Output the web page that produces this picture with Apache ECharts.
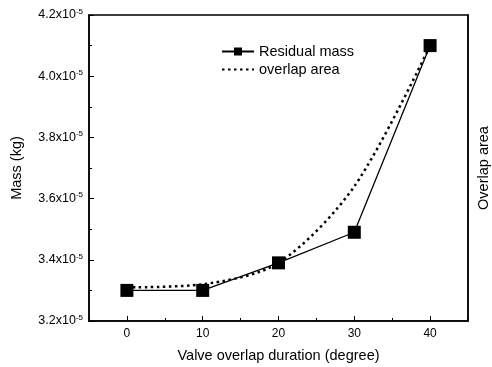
<!DOCTYPE html>
<html>
<head>
<meta charset="utf-8">
<script src="https://cdn.jsdelivr.net/npm/echarts@6/dist/echarts.min.js"></script>
<style>
  html, body { margin: 0; padding: 0; background: #fff; }
  #chart { width: 492px; height: 367px; }
</style>
</head>
<body>
<div id="chart"></div>
<script>
  // values in units of 1e-5 kg
  const durations = [0, 10, 20, 30, 40]
  const residualMass = [3.30, 3.30, 3.39, 3.49, 4.10]
  const overlapArea = [3.31, 3.32, 3.39, 3.64, 4.10]
  const majorX = [0, 10, 20, 30, 40]
  const minorX = [-5, 5, 15, 25, 35, 45]

  const font = 'Liberation Sans, Arial, sans-serif'
  const chart = echarts.init(document.getElementById('chart'))

  chart.setOption({
    animation: false,
    textStyle: { fontFamily: font, color: '#000' },
    grid: {
      left: 89, right: 24, top: 15, bottom: 46,
      outerBoundsMode: 'none',
      containLabel: false,
      show: true, borderColor: '#000', borderWidth: 1.5
    },
    legend: {
      left: 216, top: 39,
      orient: 'vertical',
      itemWidth: 32, itemHeight: 10, itemGap: 3,
      textStyle: { fontSize: 14.5, color: '#000', fontFamily: font },
      data: [
        { name: 'Residual mass' },
        { name: 'overlap area', itemStyle: { opacity: 0 } }
      ]
    },
    xAxis: [
      {
        type: 'value', position: 'bottom',
        min: -5, max: 45,
        name: 'Valve overlap duration (degree)',
        nameLocation: 'middle', nameGap: 27,
        nameTextStyle: { fontSize: 14.5, color: '#000' },
        axisLine: { lineStyle: { color: '#000', width: 1.5 } },
        axisTick: { inside: true, length: 5, customValues: majorX, lineStyle: { color: '#000' } },
        axisLabel: { customValues: majorX, fontSize: 12, color: '#000', margin: 7 },
        splitLine: { show: false }
      },
      {
        type: 'value', position: 'bottom',
        min: -5, max: 45,
        axisLine: { show: false },
        axisTick: { inside: true, length: 3, customValues: minorX, lineStyle: { color: '#000' } },
        axisLabel: { show: false },
        splitLine: { show: false }
      }
    ],
    yAxis: [
      {
        type: 'value', position: 'left',
        min: 3.2, max: 4.2, interval: 0.2,
        name: 'Mass (kg)',
        nameLocation: 'middle', nameGap: 65,
        nameTextStyle: { fontSize: 14.5, color: '#000' },
        axisLine: { show: true, onZero: false, lineStyle: { color: '#000', width: 1.5 } },
        axisTick: { inside: true, length: 5, lineStyle: { color: '#000' } },
        minorTick: { show: true, splitNumber: 2, length: 3, lineStyle: { color: '#000' } },
        axisLabel: {
          fontSize: 12.5, color: '#000', margin: 6,
          formatter: v => v.toFixed(1) + 'x10{sup|-5}',
          rich: { sup: { fontSize: 8, color: '#000', padding: [0, 0, 7, 0] } }
        },
        splitLine: { show: false }
      },
      {
        type: 'value', position: 'right',
        min: 3.2, max: 4.2,
        name: 'Overlap area',
        nameLocation: 'middle', nameGap: 8,
        nameRotate: 90,
        nameTextStyle: { fontSize: 14.5, color: '#000' },
        axisLine: { show: true, onZero: false, lineStyle: { color: '#000', width: 1.5 } },
        axisTick: { show: false },
        axisLabel: { show: false },
        splitLine: { show: false }
      }
    ],
    series: [
      {
        name: 'Residual mass',
        type: 'line',
        data: durations.map((d, i) => [d, residualMass[i]]),
        symbol: 'rect', symbolSize: 13,
        itemStyle: { color: '#000' },
        lineStyle: { color: '#000', width: 1.3 },
        z: 3
      },
      {
        name: 'overlap area',
        type: 'line',
        yAxisIndex: 1,
        data: durations.map((d, i) => [d, overlapArea[i]]),
        smooth: 0.3,
        symbol: 'none',
        itemStyle: { color: '#000' },
        lineStyle: { color: '#000', width: 2.5, type: [2.5, 3.5] },
        z: 2
      }
    ]
  })
</script>
</body>
</html>
